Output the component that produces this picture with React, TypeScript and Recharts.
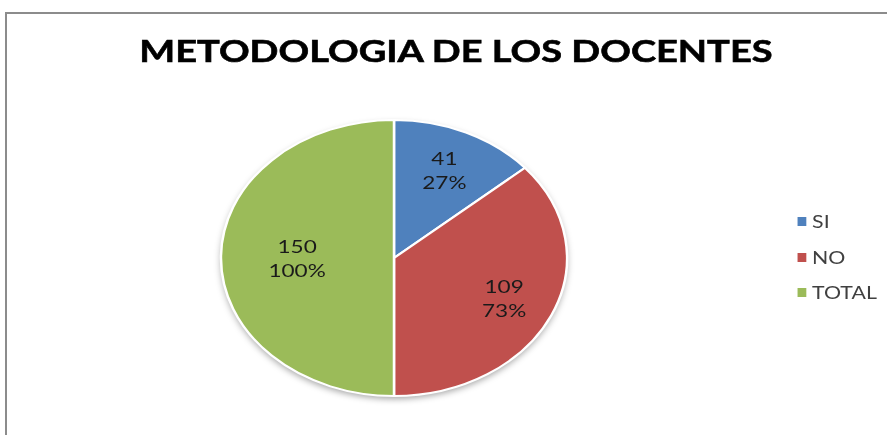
import React from "react";
import { PieChart, Pie, Cell, Legend } from "recharts";

// the reference is a horizontally stretched screenshot, so the whole chart is drawn
// narrower and then stretched with scaleX
const SX = 1.254;

const categories = ["SI", "NO", "TOTAL"];
const counts = [41, 109, 150];
const percentLabels = ["27%", "73%", "100%"];
const colors = ["#4F81BD", "#C0504D", "#9BBB59"];

const data = categories.map((name, i) => ({
  name,
  value: counts[i],
  pct: percentLabels[i],
}));

const RADIAN = Math.PI / 180;

function renderLabel(props: any) {
  const { cx, cy, midAngle, outerRadius, percent, index } = props;
  const r = outerRadius * (percent >= 0.5 ? 0.56 : 0.7);
  const x = cx + r * Math.cos(-midAngle * RADIAN);
  const y = cy + r * Math.sin(-midAngle * RADIAN);
  return (
    <text
      x={x}
      y={y}
      textAnchor="middle"
      fontFamily="Lato"
      fontSize={18}
      fill="#1a1a1a"
    >
      <tspan x={x} dy={-5}>{counts[index]}</tspan>
      <tspan x={x} dy={24}>{percentLabels[index]}</tspan>
    </text>
  );
}

function renderLegend(props: any) {
  const items = (props.payload || [])
    .filter((p: any) => p.type !== "none")
    .sort((a: any, b: any) => categories.indexOf(a.value) - categories.indexOf(b.value));
  return (
    <div style={{ fontFamily: "Lato", fontSize: 17, color: "#404040" }}>
      {items.map((entry: any) => (
        <div
          key={entry.value}
          style={{ height: 35.5, display: "flex", alignItems: "center" }}
        >
          <span
            style={{
              display: "inline-block",
              width: 7.2,
              height: 9,
              background: entry.color,
              marginRight: 4.8,
            }}
          />
          <span>{entry.value}</span>
        </div>
      ))}
    </div>
  );
}

export default function App() {
  const w = 887 / SX;
  return (
    <div
      style={{
        position: "absolute",
        left: 0,
        top: 0,
        width: 887,
        height: 435,
        overflow: "hidden",
        background: "#fff",
      }}
    >
      <svg width={0} height={0} style={{ position: "absolute" }}>
        <defs>
          <filter id="pieShadow" x="-20%" y="-20%" width="140%" height="140%">
            <feDropShadow dx="0" dy="3" stdDeviation="3" floodColor="#000" floodOpacity="0.35" />
          </filter>
        </defs>
      </svg>
      <div
        style={{
          position: "absolute",
          left: 5,
          top: 12,
          width: 1000,
          height: 600,
          borderTop: "2px solid #8c8c8c",
          borderLeft: "2px solid #8c8c8c",
        }}
      />
      <div
        style={{
          position: "absolute",
          left: 0,
          top: 0,
          width: w,
          height: 435,
          transform: `scaleX(${SX})`,
          transformOrigin: "0 0",
        }}
      >
        <div style={{ position: "absolute", left: 0, top: 0 }}>
          <PieChart
            width={w}
            height={435}
            margin={{ top: 0, right: 0, bottom: 0, left: 0 }}
          >
            <Pie
              data={[{ name: "shadow", value: 1 }]}
              dataKey="value"
              cx={314.2}
              cy={258}
              outerRadius={138}
              legendType="none"
              isAnimationActive={false}
              stroke="none"
            >
              <Cell fill="#ffffff" style={{ filter: "url(#pieShadow)" }} />
            </Pie>
            <Pie
              data={data}
              dataKey="value"
              nameKey="name"
              cx={314.2}
              cy={258}
              outerRadius={138}
              startAngle={90}
              endAngle={-270}
              stroke="#ffffff"
              strokeWidth={2}
              label={renderLabel}
              labelLine={false}
              isAnimationActive={false}
            >
              {data.map((d, i) => (
                <Cell key={d.name} fill={colors[i]} />
              ))}
            </Pie>
            <Legend
              content={renderLegend}
              layout="vertical"
              wrapperStyle={{ left: 635.6, top: 204, width: 80 }}
            />
          </PieChart>
        </div>
        <svg
          width={w}
          height={90}
          style={{ position: "absolute", left: 0, top: 0 }}
        >
          <text
            x={363.6}
            y={62}
            textAnchor="middle"
            fontFamily="Lato"
            fontWeight={700}
            fontSize={31}
            textLength={505}
            lengthAdjust="spacingAndGlyphs"
            stroke="#000"
            strokeWidth={0.6}
            fill="#000"
          >
            METODOLOGIA DE LOS DOCENTES
          </text>
        </svg>
      </div>
    </div>
  );
}
